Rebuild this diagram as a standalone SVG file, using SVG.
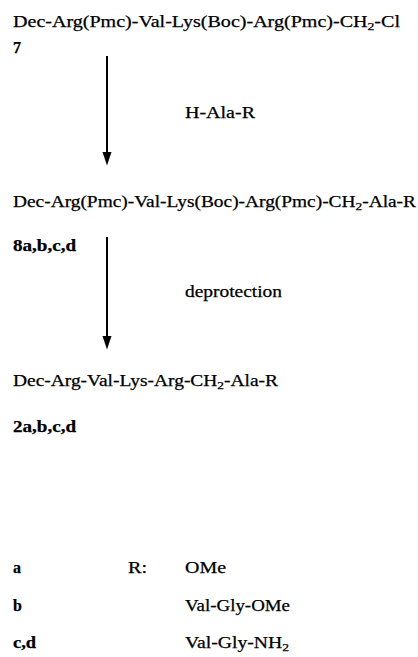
<svg xmlns="http://www.w3.org/2000/svg" width="418" height="657" viewBox="0 0 418 657">
<style>
text{font-family:"Liberation Serif","Times New Roman",serif;font-size:16px;fill:#000;stroke:#000;stroke-width:0.25}
.b{font-weight:bold}
.sub{font-size:11px}
.arr{stroke:#000;stroke-width:2;fill:none}
</style>
<defs>
<marker id="ah" markerUnits="userSpaceOnUse" markerWidth="14" markerHeight="10" refX="0" refY="0" orient="auto" viewBox="0 -5 14 10" overflow="visible">
<path d="M0,-4.5 L13.5,0 L0,4.5 Z" fill="#000"/>
</marker>
</defs>
<rect width="418" height="657" fill="#fff"/>
<g id="compound7">
<text x="13" y="27" textLength="387" lengthAdjust="spacingAndGlyphs">Dec-Arg(Pmc)-Val-Lys(Boc)-Arg(Pmc)-CH<tspan class="sub" dy="3">2</tspan><tspan dy="-3">-Cl</tspan></text>
<text class="b" x="13" y="53">7</text>
</g>
<g id="compound8">
<text x="13" y="207" textLength="403" lengthAdjust="spacingAndGlyphs">Dec-Arg(Pmc)-Val-Lys(Boc)-Arg(Pmc)-CH<tspan class="sub" dy="3">2</tspan><tspan dy="-3">-Ala-R</tspan></text>
<text class="b" x="13" y="251" textLength="63" lengthAdjust="spacingAndGlyphs">8a,b,c,d</text>
</g>
<g id="compound2">
<text x="13" y="386" textLength="265" lengthAdjust="spacingAndGlyphs">Dec-Arg-Val-Lys-Arg-CH<tspan class="sub" dy="3">2</tspan><tspan dy="-3">-Ala-R</tspan></text>
<text class="b" x="13" y="432" textLength="63" lengthAdjust="spacingAndGlyphs">2a,b,c,d</text>
</g>
<g id="connectors">
<line class="arr" x1="107" y1="56" x2="107" y2="152" marker-end="url(#ah)"/>
<text x="185" y="118" textLength="70" lengthAdjust="spacingAndGlyphs">H-Ala-R</text>
<line class="arr" x1="107" y1="237" x2="107" y2="336" marker-end="url(#ah)"/>
<text x="185" y="297" textLength="97" lengthAdjust="spacingAndGlyphs">deprotection</text>
</g>
<g id="legend">
<text class="b" x="13" y="573">a</text>
<text x="128" y="573" textLength="19" lengthAdjust="spacingAndGlyphs">R:</text>
<text x="185" y="573" textLength="41" lengthAdjust="spacingAndGlyphs">OMe</text>
<text class="b" x="13" y="611">b</text>
<text x="185" y="611" textLength="105" lengthAdjust="spacingAndGlyphs">Val-Gly-OMe</text>
<text class="b" x="13" y="648" textLength="23" lengthAdjust="spacingAndGlyphs">c,d</text>
<text x="185" y="648" textLength="104" lengthAdjust="spacingAndGlyphs">Val-Gly-NH<tspan class="sub" dy="3">2</tspan></text>
</g>
</svg>
